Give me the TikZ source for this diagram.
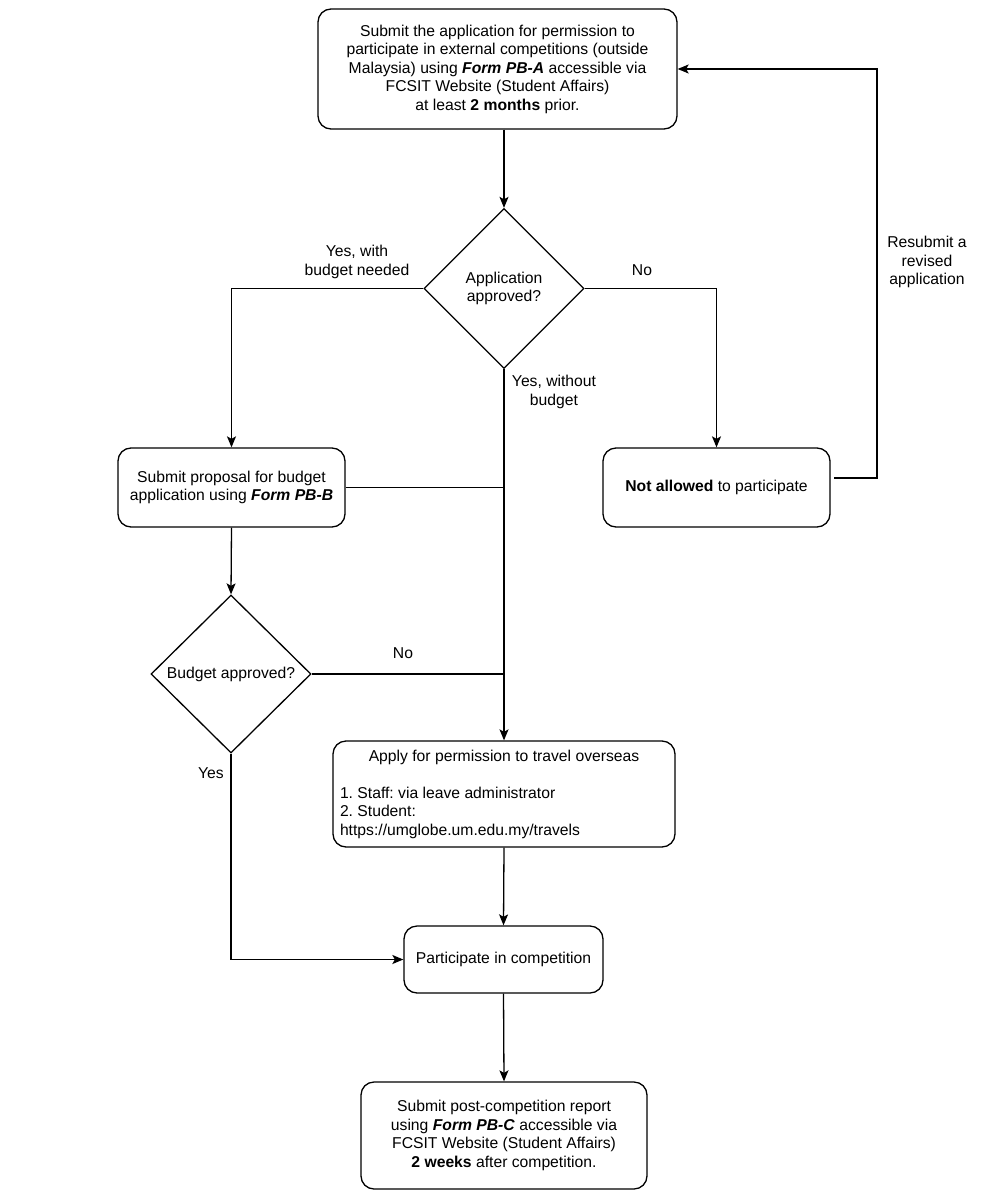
\documentclass[tikz,border=0pt]{standalone}
\usepackage{fontspec}
\setmainfont{Liberation Sans}
\usetikzlibrary{shapes.geometric,arrows.meta}
\frenchspacing
\begin{document}
\begin{tikzpicture}[x=1pt,y=-1pt,
  txt/.style={font=\fontsize{15.7}{18.5}\selectfont, align=center, inner sep=0pt},
  box/.style={txt, draw, rounded corners=13pt, line width=1.3pt},
  dec/.style={txt, draw, diamond, aspect=1, line width=1.3pt},
  lbl/.style={txt},
  ln/.style={line width=1.3pt},
  arr/.style={ln, -{Stealth[length=11pt,width=9pt,inset=2.5pt]}}]
\useasboundingbox (0,0) rectangle (1004,1201);
\fill[white] (0,0) rectangle (1004,1201);

\node[box, minimum width=359, minimum height=120] (b1) at (497.5,69)
 {Submit the application for permission to\\
  participate in external competitions (outside\\
  Malaysia) using \textbf{\textit{Form PB-A}} accessible via\\
  FCSIT Website (Student Affairs)\\
  at least \textbf{2 months} prior.};

\node[dec, minimum width=160, minimum height=160] (d1) at (504,288.5)
 {Application\\approved?};

\node[box, minimum width=227, minimum height=79] (b2) at (231.5,487.5)
 {Submit proposal for budget\\application using \textbf{\textit{Form PB-B}}};

\node[box, minimum width=227, minimum height=79] (b3) at (716.5,487.5)
 {\textbf{Not allowed} to participate};

\node[dec, minimum width=160, minimum height=158] (d2) at (231,674)
 {Budget approved?};

\node[box, minimum width=342, minimum height=106] (b4) at (504,794)
 {\begin{minipage}{328pt}\fontsize{15.7}{18.5}\selectfont
  {\centering Apply for permission to travel overseas\par}
  \raggedright\mbox{}\par
  1. Staff: via leave administrator\par
  2. Student:\par
  https://umglobe.um.edu.my/travels\par
  \end{minipage}};

\node[box, minimum width=199, minimum height=67] (b5) at (503.5,959.5)
 {Participate in competition};

\node[box, minimum width=286, minimum height=107] (b6) at (504,1135.5)
 {Submit post-competition report\\
  using \textbf{\textit{Form PB-C}} accessible via\\
  FCSIT Website (Student Affairs)\\
  \textbf{2 weeks} after competition.};

% labels
\node[lbl] (l1) at (357,262) {Yes, with\\budget needed};
\node[lbl] (l2) at (642,270) {No};
\node[lbl] (l3) at (554,392) {Yes, without\\budget};
\node[lbl] (l4) at (927,262) {Resubmit a\\revised\\application};
\node[lbl] (l5) at (403,653) {No};
\node[lbl] (l6) at (211,773) {Yes};

% helper coordinates
\coordinate (j1) at (504,487.5);
\coordinate (j2) at (504,674);
\coordinate (r1) at (834,478);
\coordinate (rc) at (877,478);

% connectors
\draw[arr] (b1.south -| d1.north) -- (d1.north);
\draw[arr] (d1.west) -| (b2.north);
\draw[arr] (d1.east) -| (b3.north);
\draw[arr] (d1.south) -- (b4.north);
\draw[ln] (b2.east) -- (j1);
\draw[arr] (r1) -- (rc) |- (b1.east);
\draw[arr] (b2.south) -- (d2.north);
\draw[ln] (d2.east) -- (j2);
\draw[arr] (d2.south) |- (b5.west);
\draw[arr] (b4.south) -- (b5.north);
\draw[arr] (b5.south) -- (b6.north);
\end{tikzpicture}
\end{document}
